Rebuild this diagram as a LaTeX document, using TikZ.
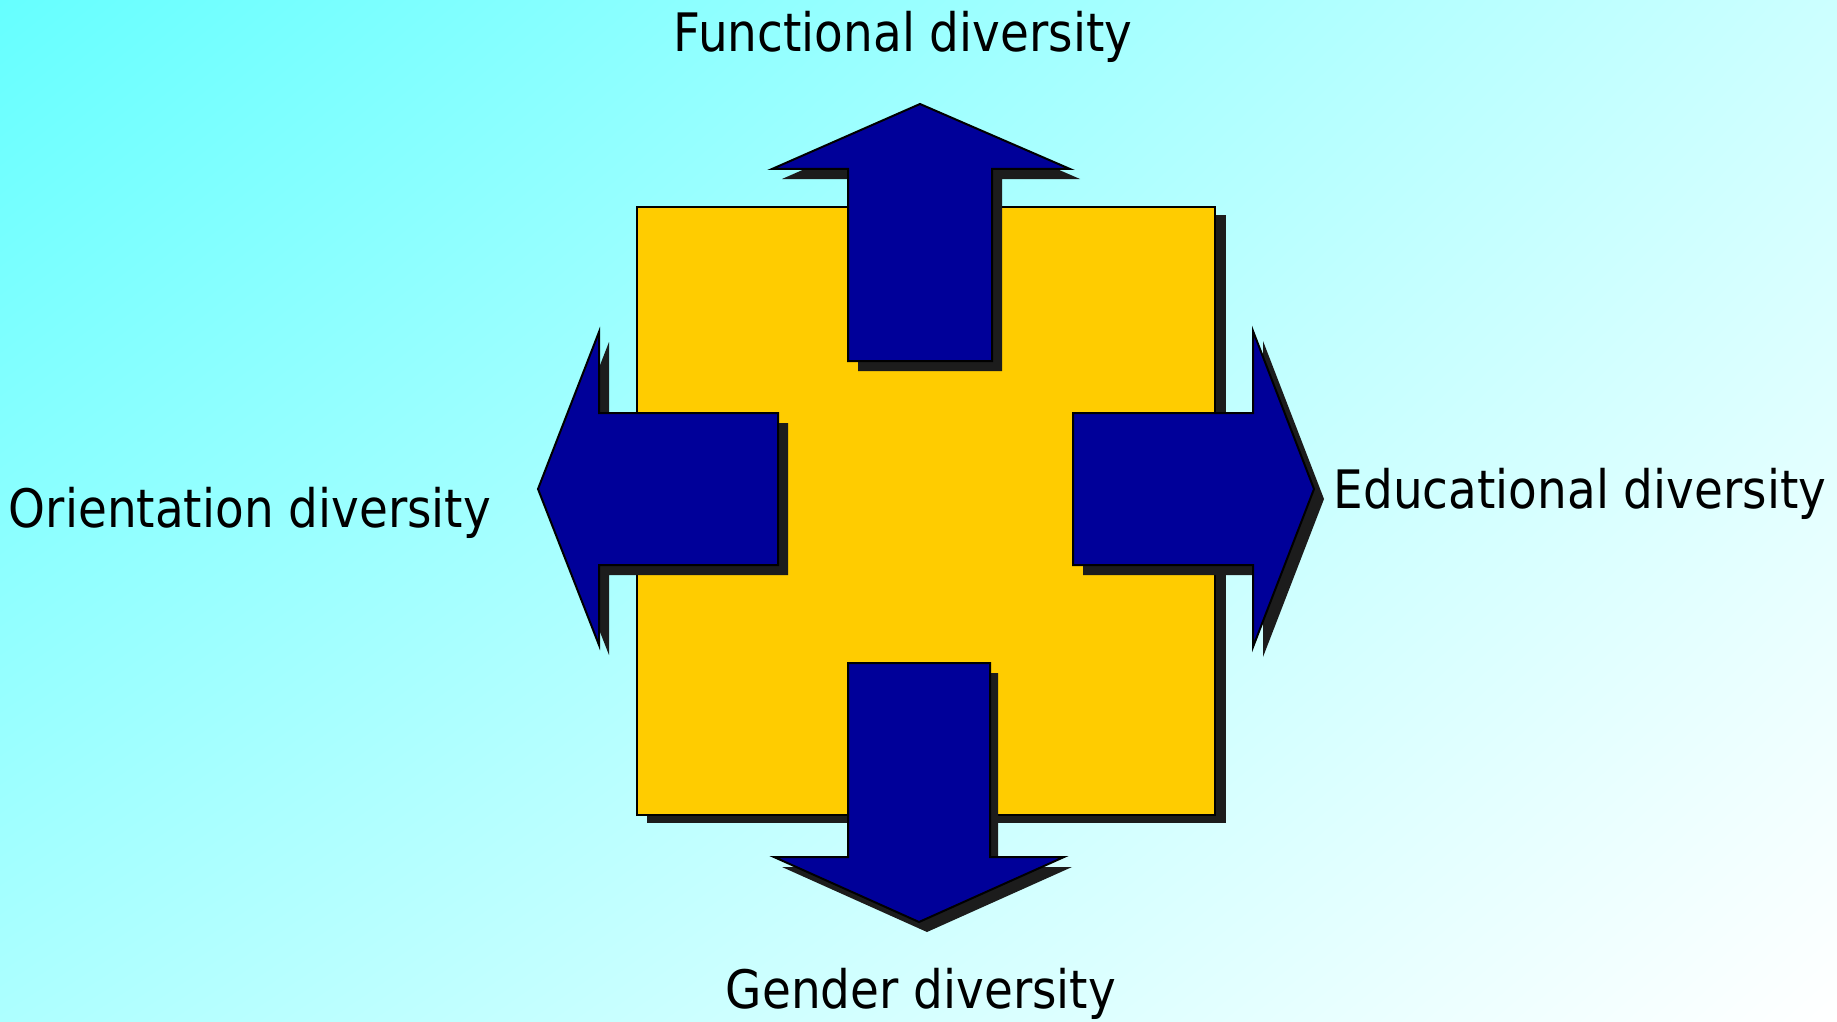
\documentclass[tikz,border=0pt]{standalone}
\usepackage{fontspec}
\usepackage{xcolor}
\usepackage{tikz}
\usetikzlibrary{shadings}
\newfontfamily\labelfont[FakeStretch=0.885]{DejaVu Sans}
\definecolor{bgcyan}{HTML}{66FFFF}
\definecolor{bgtr}{HTML}{CCFFFF}
\definecolor{bgbl}{HTML}{ADFFFF}
\definecolor{boxgold}{HTML}{FFCC00}
\definecolor{arrblue}{HTML}{000099}
\definecolor{shadowgrey}{HTML}{1C1C1C}

\begin{document}
\begin{tikzpicture}[x=1pt,y=-1pt,
  sq/.style={draw=black, line width=1.6pt, fill=boxgold},
  arr/.style={draw=black, line width=2pt, fill=arrblue, line join=miter},
  shd/.style={fill=shadowgrey},
  lbl/.style={font=\labelfont\fontsize{53}{60}\selectfont, inner sep=0pt, anchor=base},
]
% background
\shade[upper left=bgcyan, upper right=bgtr, lower left=bgbl, lower right=white] (0,0) rectangle (1837,1022);
\useasboundingbox (0,0) rectangle (1837,1022);
% centre square
\fill[shd] (647,215) rectangle (1226,823);
\draw[sq] (637,207) rectangle (1215,815);
% up arrow
\fill[shd, shift={(10,10)}] (920,104) -- (1070,169) -- (992,169) -- (992,361) -- (848,361) -- (848,169) -- (772,169) -- cycle;
\draw[arr] (920,104) -- (1070,169) -- (992,169) -- (992,361) -- (848,361) -- (848,169) -- (772,169) -- cycle;
% left arrow
\fill[shd, shift={(10,10)}] (538,489) -- (599,332) -- (599,413) -- (778,413) -- (778,565) -- (599,565) -- (599,645) -- cycle;
\draw[arr] (538,489) -- (599,332) -- (599,413) -- (778,413) -- (778,565) -- (599,565) -- (599,645) -- cycle;
% right arrow
\fill[shd, shift={(10,10)}] (1314,489) -- (1253,331) -- (1253,413) -- (1073,413) -- (1073,565) -- (1253,565) -- (1253,647) -- cycle;
\draw[arr] (1314,489) -- (1253,331) -- (1253,413) -- (1073,413) -- (1073,565) -- (1253,565) -- (1253,647) -- cycle;
% down arrow
\fill[shd, shift={(8,10)}] (919,922) -- (1064,857) -- (990,857) -- (990,663) -- (848,663) -- (848,857) -- (774,857) -- cycle;
\draw[arr] (919,922) -- (1064,857) -- (990,857) -- (990,663) -- (848,663) -- (848,857) -- (774,857) -- cycle;
% labels
\node[lbl] (functional) at (903,52) {Functional diversity};
\node[lbl] (orientation) at (250,527) {Orientation diversity};
\node[lbl] (educational) at (1580,508) {Educational diversity};
\node[lbl] (gender) at (921,1008) {Gender diversity};
\end{tikzpicture}
\end{document}
